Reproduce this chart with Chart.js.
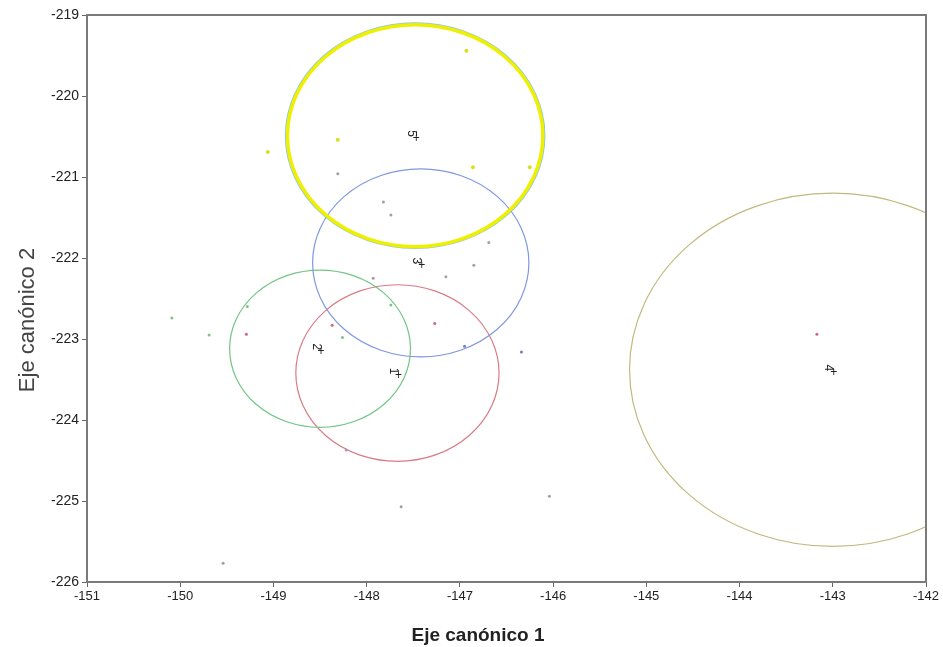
<!DOCTYPE html>
<html lang="es">
<head>
<meta charset="UTF-8" />
<title>Eje canónico 1 vs Eje canónico 2</title>
<script src="https://cdn.jsdelivr.net/npm/chart.js@4"></script>
<style>
  body { margin: 0; background: #fff; }
  #chart { display: block; }
</style>
</head>
<body>
<canvas id="chart" width="943" height="647"></canvas>
<script>
// group centroids (canonical axes) and circle radii
const groupLabels = ['1', '2', '3', '4', '5'];
const centerX = [-147.67, -148.50, -147.42, -143.00, -147.48];
const centerY = [-223.42, -223.12, -222.06, -223.38, -220.49];
const radius  = [1.09, 0.97, 1.16, 2.18, 1.37];
const circleColors = ['#d97b86', '#74c584', '#7f98e0', '#c2b97e', '#eef000'];

// individual observations
const pts1X = [-149.29, -148.37, -147.27, -143.17];
const pts1Y = [-222.94, -222.83, -222.81, -222.94];
const pts2X = [-150.09, -149.69, -149.28, -148.26, -147.74];
const pts2Y = [-222.74, -222.95, -222.60, -222.98, -222.58];
const pts3X = [-146.95, -146.34];
const pts3Y = [-223.09, -223.16];
const pts5X = [-146.93, -149.06, -146.86, -146.25, -148.31];
const pts5Y = [-219.44, -220.69, -220.88, -220.88, -220.54];
const greyX = [-148.31, -147.82, -147.74, -146.69, -146.85, -147.15, -147.93, -148.22, -147.63, -146.04, -149.54];
const greyY = [-220.96, -221.31, -221.47, -221.81, -222.09, -222.23, -222.25, -224.37, -225.07, -224.94, -225.77];

const xTicks = [-151, -150, -149, -148, -147, -146, -145, -144, -143, -142];
const yTicks = [-226, -225, -224, -223, -222, -221, -220, -219];
const xTitle = 'Eje canónico 1';
const yTitle = 'Eje canónico 2';

function toPoints(xs, ys) {
  return xs.map((x, i) => ({ x: x, y: ys[i] }));
}

// circles, centroid labels, frame and axis titles
const circlesPlugin = {
  id: 'circles',
  beforeDatasetsDraw(chart) {
    const { ctx, chartArea, scales } = chart;
    const sx = scales.x, sy = scales.y;
    ctx.save();
    ctx.beginPath();
    ctx.rect(chartArea.left, chartArea.top, chartArea.width, chartArea.height);
    ctx.clip();
    const draw = (i, r, color, width) => {
      const cx = sx.getPixelForValue(centerX[i]);
      const cy = sy.getPixelForValue(centerY[i]);
      const rx = Math.abs(sx.getPixelForValue(centerX[i] + r) - cx);
      const ry = Math.abs(sy.getPixelForValue(centerY[i] + r) - cy);
      ctx.beginPath();
      ctx.ellipse(cx, cy, rx, ry, 0, 0, Math.PI * 2);
      ctx.strokeStyle = color;
      ctx.lineWidth = width;
      ctx.stroke();
    };
    // faint blue ring under the yellow one
    draw(4, radius[4] + 0.02, '#8fc6e6', 1.5);
    for (let i = 0; i < groupLabels.length; i++) {
      draw(i, radius[i], circleColors[i], i === 4 ? 3.5 : 1.2);
    }
    ctx.restore();
  },
  afterDatasetsDraw(chart) {
    const { ctx, chartArea, scales } = chart;
    ctx.save();
    ctx.fillStyle = '#222';
    ctx.font = '12px "Liberation Sans", Arial, sans-serif';
    ctx.textAlign = 'center';
    ctx.textBaseline = 'middle';
    for (let i = 0; i < groupLabels.length; i++) {
      const cx = scales.x.getPixelForValue(centerX[i]);
      const cy = scales.y.getPixelForValue(centerY[i]);
      ctx.save();
      ctx.translate(cx - 4, cy - 2);
      ctx.rotate(Math.PI / 2);
      ctx.fillText(groupLabels[i], 0, 0);
      ctx.restore();
      ctx.fillText('+', cx + 1, cy + 3);
    }
    // top and right frame
    ctx.strokeStyle = '#7a7a7a';
    ctx.lineWidth = 2;
    ctx.beginPath();
    ctx.moveTo(chartArea.left, chartArea.top);
    ctx.lineTo(chartArea.right, chartArea.top);
    ctx.lineTo(chartArea.right, chartArea.bottom);
    ctx.stroke();

    // axis titles
    ctx.fillStyle = '#222';
    ctx.font = 'bold 19px "Liberation Sans", Arial, sans-serif';
    ctx.textAlign = 'center';
    ctx.textBaseline = 'alphabetic';
    ctx.fillText(xTitle, 478, 641);
    ctx.save();
    ctx.translate(34, 320);
    ctx.rotate(-Math.PI / 2);
    ctx.fillStyle = '#444';
    ctx.font = '22px "Liberation Sans", Arial, sans-serif';
    ctx.fillText(yTitle, 0, 0);
    ctx.restore();
    ctx.restore();
  }
};

const ctx = document.getElementById('chart').getContext('2d');
new Chart(ctx, {
  type: 'scatter',
  data: {
    datasets: [
      { data: toPoints(greyX, greyY), backgroundColor: '#a0a0a8', borderWidth: 0, pointRadius: 1.5 },
      { data: toPoints(pts1X, pts1Y), backgroundColor: '#c96a7a', borderWidth: 0, pointRadius: 1.5 },
      { data: toPoints(pts2X, pts2Y), backgroundColor: '#7cc48c', borderWidth: 0, pointRadius: 1.5 },
      { data: toPoints(pts3X, pts3Y), backgroundColor: '#6f7fc8', borderWidth: 0, pointRadius: 1.5 },
      { data: toPoints(pts5X, pts5Y), backgroundColor: '#d8e020', borderWidth: 0, pointRadius: 2 }
    ]
  },
  options: {
    responsive: false,
    animation: false,
    layout: { padding: { top: 15, right: 17, left: 0, bottom: 0 } },
    plugins: { legend: { display: false }, tooltip: { enabled: false } },
    scales: {
      x: {
        type: 'linear',
        min: -151,
        max: -142,
        afterBuildTicks: s => { s.ticks = xTicks.map(v => ({ value: v })); },
        afterFit: s => { s.height = 65; },
        grid: { drawOnChartArea: false, drawTicks: true, tickLength: 5, tickColor: '#666', tickWidth: 1 },
        border: { display: true, color: '#7a7a7a', width: 2 },
        ticks: {
          color: '#222',
          padding: 2,
          maxRotation: 0,
          font: { family: '"Liberation Sans Narrow", "Liberation Sans", Arial', size: 13 }
        }
      },
      y: {
        type: 'linear',
        min: -226,
        max: -219,
        afterBuildTicks: s => { s.ticks = yTicks.map(v => ({ value: v })); },
        afterFit: s => { s.width = 87; },
        grid: { drawOnChartArea: false, drawTicks: true, tickLength: 5, tickColor: '#666', tickWidth: 1 },
        border: { display: true, color: '#7a7a7a', width: 2 },
        ticks: {
          color: '#222',
          padding: 3,
          font: { family: '"Liberation Sans", Arial', size: 14 }
        }
      }
    }
  },
  plugins: [circlesPlugin]
});
</script>
</body>
</html>
